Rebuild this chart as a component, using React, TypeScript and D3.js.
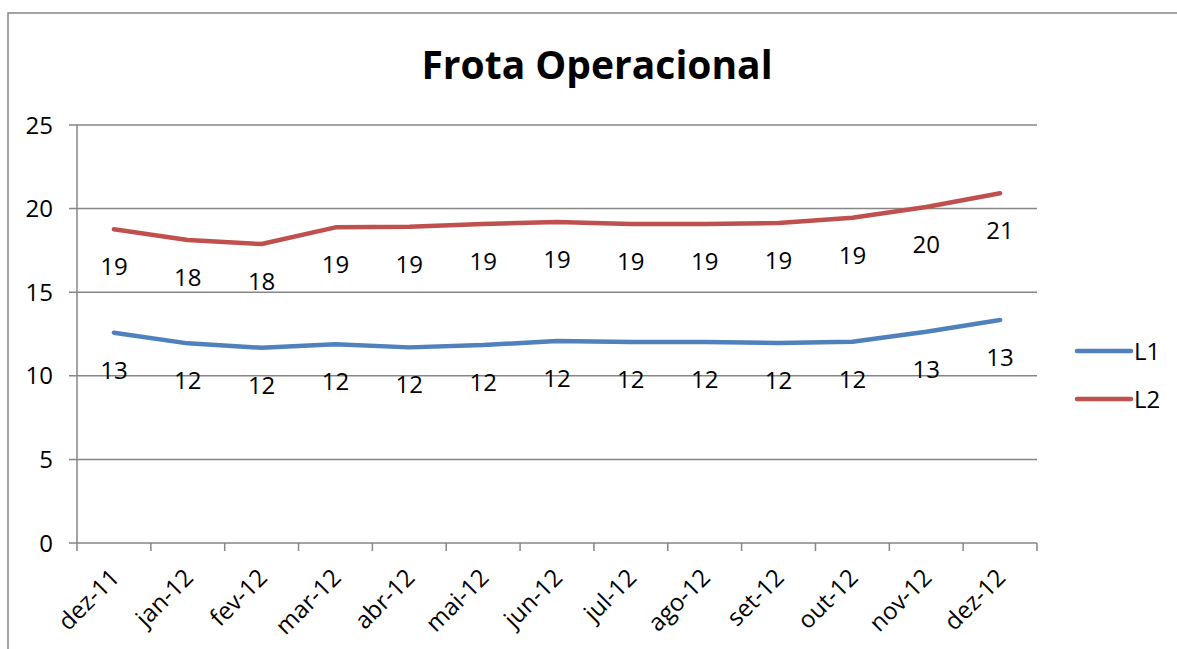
import React from "react";
import * as d3 from "d3";

const categories = ["dez-11", "jan-12", "fev-12", "mar-12", "abr-12", "mai-12", "jun-12", "jul-12", "ago-12", "set-12", "out-12", "nov-12", "dez-12"];
const seriesL1 = [12.58, 11.94, 11.68, 11.88, 11.7, 11.84, 12.08, 12.02, 12.02, 11.96, 12.04, 12.64, 13.34];
const seriesL2 = [18.76, 18.12, 17.88, 18.88, 18.92, 19.08, 19.2, 19.08, 19.08, 19.14, 19.45, 20.1, 20.92];
const labelsL1 = ["13", "12", "12", "12", "12", "12", "12", "12", "12", "12", "12", "13", "13"];
const labelsL2 = ["19", "18", "18", "19", "19", "19", "19", "19", "19", "19", "19", "20", "21"];
const yTicks = [0, 5, 10, 15, 20, 25];
const seriesNames = ["L1", "L2"];
const colors = ["#4F81BD", "#C0504D"];
const title = "Frota Operacional";

const W = 1177;
const H = 649;
const plot = { left: 77, right: 1037, top: 125, bottom: 543 };
const FONT = "'Open Sans', Lato, sans-serif";
const GRID = "#868686";

export default function App() {
  const x = d3.scaleBand<string>().domain(categories).range([plot.left, plot.right]).padding(0);
  const y = d3.scaleLinear().domain([0, 25]).range([plot.bottom, plot.top]);
  const cx = (c: string) => (x(c) as number) + x.bandwidth() / 2;
  const line = d3
    .line<number>()
    .x((_, i) => cx(categories[i]))
    .y((v) => y(v))
    .curve(d3.curveLinear);
  const series = [seriesL1, seriesL2];
  const labels = [labelsL1, labelsL2];
  const tickXs = categories.map((c) => x(c) as number).concat([plot.right]);

  return (
    <svg
      width={W}
      height={H}
      style={{ position: "absolute", left: 0, top: 0, background: "#fff" }}
      fontFamily={FONT}
    >
      <rect x={0} y={0} width={W} height={H} fill="#fff" />
      <rect x={8} y={13} width={1178} height={660} fill="none" stroke={GRID} strokeWidth={1.5} />
      <text x={597} y={79} textAnchor="middle" fontSize={39} fontWeight="bold" fill="#000">
        {title}
      </text>
      {yTicks.map((t) => (
        <g key={t}>
          <line x1={plot.left - 8} x2={plot.right} y1={y(t)} y2={y(t)} stroke={GRID} strokeWidth={1.5} />
          <text x={53} y={y(t) + 8.5} textAnchor="end" fontSize={24} fill="#000">
            {t}
          </text>
        </g>
      ))}
      <line x1={plot.left} x2={plot.left} y1={plot.top} y2={plot.bottom} stroke={GRID} strokeWidth={1.5} />
      {tickXs.map((tx, i) => (
        <line key={i} x1={tx} x2={tx} y1={plot.bottom} y2={plot.bottom + 8} stroke={GRID} strokeWidth={1.5} />
      ))}
      {categories.map((c) => (
        <text
          key={c}
          transform={`translate(${cx(c) + 7},${plot.bottom + 36}) rotate(-45)`}
          textAnchor="end"
          fontSize={24}
          fill="#000"
        >
          {c}
        </text>
      ))}
      {series.map((s, k) => (
        <path
          key={k}
          d={line(s) as string}
          fill="none"
          stroke={colors[k]}
          strokeWidth={4.5}
          strokeLinejoin="round"
          strokeLinecap="round"
        />
      ))}
      {series.map((s, k) =>
        s.map((v, i) => (
          <text
            key={`${k}-${i}`}
            x={cx(categories[i])}
            y={y(v) + 46}
            textAnchor="middle"
            fontSize={24}
            fill="#000"
          >
            {labels[k][i]}
          </text>
        ))
      )}
      {seriesNames.map((n, k) => (
        <g key={n}>
          <line
            x1={1077}
            x2={1131}
            y1={351 + k * 48}
            y2={351 + k * 48}
            stroke={colors[k]}
            strokeWidth={4.5}
            strokeLinecap="round"
          />
          <text x={1134} y={351 + k * 48 + 8.5} fontSize={24} fill="#000">
            {n}
          </text>
        </g>
      ))}
    </svg>
  );
}
